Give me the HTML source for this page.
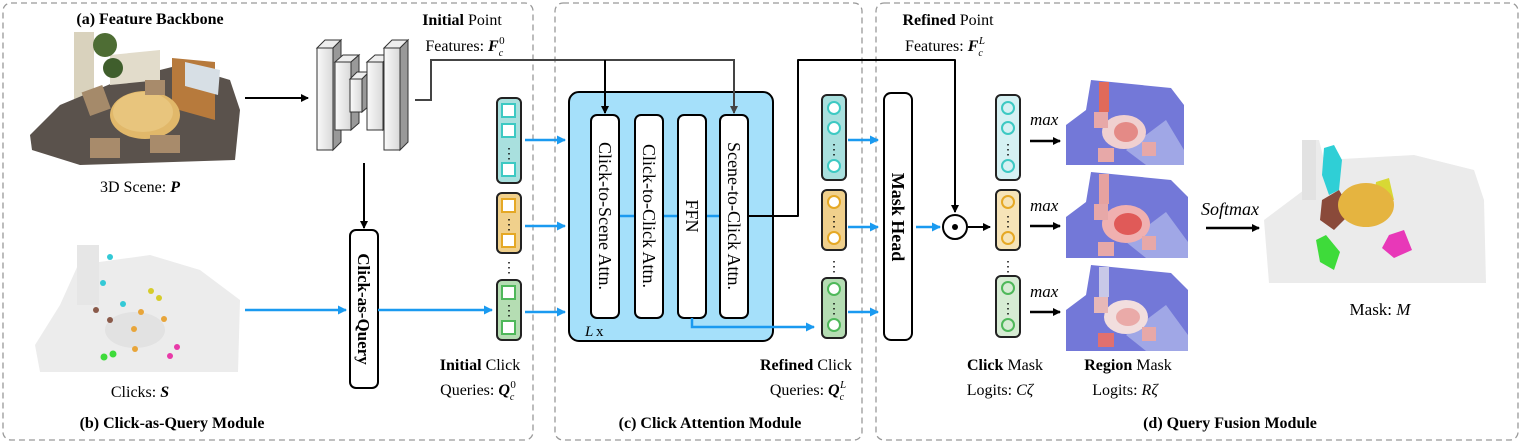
<!DOCTYPE html>
<html><head><meta charset="utf-8"><style>
body{margin:0;background:#fff}
svg{display:block}
text{font-family:"Liberation Serif",serif;fill:#000}
.b{font-weight:bold}
</style></head><body>
<svg width="1522" height="444" viewBox="0 0 1522 444" xmlns="http://www.w3.org/2000/svg">
<defs>
<marker id="ak" markerWidth="8" markerHeight="8" refX="7" refY="4" orient="auto" markerUnits="userSpaceOnUse"><path d="M0,0 L8,4 L0,8 z" fill="#000"/></marker>
<marker id="ag" markerWidth="8" markerHeight="8" refX="7" refY="4" orient="auto" markerUnits="userSpaceOnUse"><path d="M0,0 L8,4 L0,8 z" fill="#444"/></marker>
<marker id="ab" markerWidth="9" markerHeight="9" refX="8" refY="4.5" orient="auto" markerUnits="userSpaceOnUse"><path d="M0,0 L9,4.5 L0,9 z" fill="#1a9af0"/></marker>
<linearGradient id="blk" x1="0" x2="1"><stop offset="0" stop-color="#fafafa"/><stop offset="1" stop-color="#d8d8d8"/></linearGradient>
</defs>
<g fill="none" stroke="#999" stroke-width="1.3" stroke-dasharray="6,4">
<rect x="3" y="3" width="530" height="437" rx="8"/>
<rect x="555" y="3" width="307" height="437" rx="8"/>
<rect x="876" y="3" width="642" height="437" rx="8"/>
</g>
<text x="150" y="24" font-size="16" text-anchor="middle" class="b">(a) Feature Backbone</text>
<g>
<rect x="74" y="32" width="20" height="80" fill="#d9d2bd"/>
<polygon points="30,135 60,105 120,80 180,65 230,80 240,110 235,160 80,165 32,150" fill="#5a524c"/>
<polygon points="110,55 160,50 160,80 110,85" fill="#e2dccb"/>
<polygon points="172,58 215,62 215,120 172,108" fill="#b77a3c"/>
<polygon points="185,62 220,70 218,95 185,86" fill="#d7dfe5"/>
<circle cx="105" cy="45" r="12" fill="#4e6d34"/>
<circle cx="113" cy="68" r="10" fill="#3f5e2c"/>
<ellipse cx="145" cy="115" rx="35" ry="24" fill="#e1b86a"/>
<ellipse cx="143" cy="112" rx="30" ry="20" fill="#e8c57d"/>
<rect x="85" y="88" width="22" height="25" fill="#a58a6a" transform="rotate(-20 96 100)"/>
<rect x="90" y="138" width="30" height="20" fill="#a88b6b"/>
<rect x="150" y="135" width="30" height="18" fill="#a88b6b"/>
<rect x="145" y="80" width="20" height="15" fill="#a88b6b"/>
</g>
<text x="140" y="192" font-size="16" text-anchor="middle">3D Scene: <tspan font-weight="bold" font-style="italic">P</tspan></text>
<g>
<polygon points="35,345 60,305 78,265 150,255 200,270 240,300 238,372 40,372" fill="#ececec"/>
<rect x="77" y="245" width="22" height="60" fill="#e6e6e6"/>
<ellipse cx="135" cy="330" rx="30" ry="18" fill="#e2e2e2"/>
<g>
<circle cx="110" cy="257" r="3" fill="#33c9d6"/><circle cx="103" cy="283" r="3" fill="#33c9d6"/><circle cx="123" cy="304" r="3" fill="#33c9d6"/>
<circle cx="96" cy="310" r="3" fill="#8a5a4a"/><circle cx="110" cy="320" r="3" fill="#8a5a4a"/>
<circle cx="151" cy="291" r="3" fill="#d6cc2a"/><circle cx="159" cy="298" r="3" fill="#d6cc2a"/>
<circle cx="141" cy="312" r="3" fill="#e8a53a"/><circle cx="164" cy="319" r="3" fill="#e8a53a"/><circle cx="134" cy="329" r="3" fill="#e8a53a"/><circle cx="135" cy="349" r="3" fill="#e8a53a"/>
<circle cx="104" cy="357" r="3.5" fill="#3edb3a"/><circle cx="113" cy="354" r="3.5" fill="#3edb3a"/>
<circle cx="177" cy="347" r="3" fill="#e83aa8"/><circle cx="170" cy="356" r="3" fill="#e83aa8"/>
</g>
</g>
<text x="140" y="397" font-size="16" text-anchor="middle">Clicks: <tspan font-weight="bold" font-style="italic">S</tspan></text>
<text x="172" y="428" font-size="16" text-anchor="middle" class="b">(b) Click-as-Query Module</text>
<line x1="245" y1="98" x2="308" y2="98" stroke="#000" stroke-width="2" marker-end="url(#ak)"/>
<g stroke="#333" stroke-width="1">
<g><polygon points="317,48 325,40 341,40 333,48" fill="#eee"/><polygon points="333,48 341,40 341,142 333,150" fill="#999"/><rect x="317" y="48" width="16" height="102" fill="url(#blk)"/></g>
<g><polygon points="335,62 343,55 359,55 351,62" fill="#eee"/><polygon points="351,62 359,55 359,123 351,130" fill="#999"/><rect x="335" y="62" width="16" height="68" fill="url(#blk)"/></g>
<g><polygon points="350,79 357,72 369,72 362,79" fill="#eee"/><polygon points="362,79 369,72 369,106 362,112" fill="#999"/><rect x="350" y="79" width="12" height="33" fill="url(#blk)"/></g>
<g><polygon points="367,62 375,55 391,55 383,62" fill="#eee"/><polygon points="383,62 391,55 391,123 383,130" fill="#999"/><rect x="367" y="62" width="16" height="68" fill="url(#blk)"/></g>
<g><polygon points="384,48 392,40 408,40 400,48" fill="#eee"/><polygon points="400,48 408,40 408,142 400,150" fill="#999"/><rect x="384" y="48" width="16" height="102" fill="url(#blk)"/></g>
</g>
<text x="462" y="25" font-size="16" text-anchor="middle"><tspan font-weight="bold">Initial</tspan> Point</text>
<text x="465" y="51" font-size="16" text-anchor="middle">Features: <tspan font-weight="bold" font-style="italic">F</tspan><tspan font-size="10" font-style="italic" dy="5">c</tspan><tspan font-size="11" dy="-12" dx="-4">0</tspan></text>
<line x1="364" y1="163" x2="364" y2="228" stroke="#000" stroke-width="2" marker-end="url(#ak)"/>
<rect x="350" y="230" width="28" height="158" rx="6" fill="#fff" stroke="#000" stroke-width="2"/>
<text font-size="17" class="b" transform="translate(358,309) rotate(90)" text-anchor="middle">Click-as-Query</text>
<line x1="245" y1="310" x2="346" y2="310" stroke="#1a9af0" stroke-width="2.5" marker-end="url(#ab)"/>
<line x1="378" y1="310" x2="492" y2="310" stroke="#1a9af0" stroke-width="2.5" marker-end="url(#ab)"/>
<g stroke-width="2">
<rect x="497" y="98" width="24" height="85" rx="5" fill="#a9e0de" stroke="#222"/>
<g fill="#fff" stroke="#3dc9c3"><rect x="502" y="104" width="13" height="13"/><rect x="502" y="124" width="13" height="13"/><rect x="502" y="163" width="13" height="13"/></g>
<rect x="497" y="193" width="24" height="60" rx="5" fill="#f0d08c" stroke="#222"/>
<g fill="#fff" stroke="#e5a825"><rect x="502" y="199" width="13" height="13"/><rect x="502" y="234" width="13" height="13"/></g>
<rect x="497" y="280" width="24" height="60" rx="5" fill="#b5ddb3" stroke="#222"/>
<g fill="#fff" stroke="#4fb85a"><rect x="502" y="286" width="13" height="13"/><rect x="502" y="321" width="13" height="13"/></g>
</g>
<g font-size="14" text-anchor="middle"><text x="509" y="158">⋮</text><text x="509" y="229">⋮</text><text x="509" y="272">⋮</text><text x="509" y="315">⋮</text></g>
<text x="480" y="370" font-size="16" text-anchor="middle"><tspan font-weight="bold">Initial</tspan> Click</text>
<text x="478" y="395" font-size="16" text-anchor="middle">Queries: <tspan font-weight="bold" font-style="italic">Q</tspan><tspan font-size="10" font-style="italic" dy="5">c</tspan><tspan font-size="11" dy="-12" dx="-4">0</tspan></text>
<g stroke="#1a9af0" stroke-width="2.5"><line x1="525" y1="140" x2="565" y2="140" marker-end="url(#ab)"/><line x1="525" y1="226" x2="565" y2="226" marker-end="url(#ab)"/><line x1="525" y1="312" x2="565" y2="312" marker-end="url(#ab)"/></g>
<rect x="569" y="92" width="204" height="249" rx="10" fill="#a5e0fa" stroke="#000" stroke-width="2"/>
<!-- feature line drawn after box -->
<polyline points="415,100 431,100 431,60 734,60 734,113" fill="none" stroke="#444" stroke-width="2" marker-end="url(#ag)"/>
<line x1="605" y1="60" x2="605" y2="113" stroke="#000" stroke-width="2" marker-end="url(#ak)"/>
<g stroke="#1a9af0" stroke-width="2.5"><line x1="619" y1="216" x2="636" y2="216"/><line x1="664" y1="216" x2="678" y2="216"/><line x1="707" y1="216" x2="720" y2="216"/></g>
<g fill="#fff" stroke="#000" stroke-width="2">
<rect x="591" y="115" width="28" height="203" rx="6"/><rect x="635" y="115" width="28" height="203" rx="6"/>
<rect x="678" y="115" width="28" height="203" rx="6"/><rect x="720" y="115" width="28" height="203" rx="6"/>
</g>
<g font-size="18" text-anchor="middle">
<text transform="translate(599,216) rotate(90)">Click-to-Scene Attn.</text>
<text transform="translate(643,216) rotate(90)">Click-to-Click Attn.</text>
<text transform="translate(686,216) rotate(90)">FFN</text>
<text transform="translate(728,216) rotate(90)">Scene-to-Click Attn.</text>
</g>
<text x="585" y="336" font-size="15" font-family="Liberation Sans" font-style="italic">L</text>
<text x="596" y="336" font-size="15" font-family="Liberation Sans">x</text>
<polyline points="692,318 692,327 814,327" fill="none" stroke="#1a9af0" stroke-width="2.5" marker-end="url(#ab)"/>
<polyline points="748,216 798,216 798,60 955,60 955,212" fill="none" stroke="#000" stroke-width="2" stroke-linejoin="round" marker-end="url(#ak)"/>
<g stroke-width="2">
<rect x="822" y="95" width="24" height="85" rx="5" fill="#a9e0de" stroke="#222"/>
<rect x="822" y="190" width="24" height="60" rx="5" fill="#f0d08c" stroke="#222"/>
<rect x="822" y="278" width="24" height="60" rx="5" fill="#b5ddb3" stroke="#222"/>
<g fill="#fff" stroke="#3dc9c3"><circle cx="834" cy="108" r="6"/><circle cx="834" cy="128" r="6"/><circle cx="834" cy="166" r="6"/></g>
<g fill="#fff" stroke="#e5a825"><circle cx="834" cy="202" r="6"/><circle cx="834" cy="238" r="6"/></g>
<g fill="#fff" stroke="#4fb85a"><circle cx="834" cy="289" r="6"/><circle cx="834" cy="325" r="6"/></g>
</g>
<g font-size="14" text-anchor="middle"><text x="834" y="154">⋮</text><text x="834" y="226">⋮</text><text x="834" y="271">⋮</text><text x="834" y="313">⋮</text></g>
<text x="806" y="370" font-size="16" text-anchor="middle"><tspan font-weight="bold">Refined</tspan> Click</text>
<text x="808" y="395" font-size="16" text-anchor="middle">Queries: <tspan font-weight="bold" font-style="italic">Q</tspan><tspan font-size="10" font-style="italic" dy="5">c</tspan><tspan font-size="11" font-style="italic" dy="-12" dx="-4">L</tspan></text>
<text x="710" y="428" font-size="16" text-anchor="middle" class="b">(c) Click Attention Module</text>
<text x="948" y="25" font-size="16" text-anchor="middle"><tspan font-weight="bold">Refined</tspan> Point</text>
<text x="945" y="51" font-size="16" text-anchor="middle">Features: <tspan font-weight="bold" font-style="italic">F</tspan><tspan font-size="10" font-style="italic" dy="5">c</tspan><tspan font-size="11" font-style="italic" dy="-12" dx="-4">L</tspan></text>
<g stroke="#1a9af0" stroke-width="2.5"><line x1="848" y1="140" x2="878" y2="140" marker-end="url(#ab)"/><line x1="848" y1="227" x2="878" y2="227" marker-end="url(#ab)"/><line x1="848" y1="312" x2="878" y2="312" marker-end="url(#ab)"/></g>
<rect x="884" y="93" width="28" height="247" rx="7" fill="#fff" stroke="#000" stroke-width="2"/>
<text transform="translate(892,217) rotate(90)" font-size="18" class="b" text-anchor="middle">Mask Head</text>
<line x1="916" y1="227" x2="940" y2="227" stroke="#1a9af0" stroke-width="2.5" marker-end="url(#ab)"/>
<circle cx="955" cy="227" r="12" fill="#fff" stroke="#000" stroke-width="2"/><circle cx="955" cy="227" r="3" fill="#000"/>
<line x1="968" y1="227" x2="990" y2="227" stroke="#000" stroke-width="2" marker-end="url(#ak)"/>
<g stroke-width="2">
<rect x="996" y="95" width="24" height="85" rx="5" fill="#d6f1f3" stroke="#222"/>
<rect x="996" y="190" width="24" height="60" rx="5" fill="#f6e4b8" stroke="#222"/>
<rect x="996" y="276" width="24" height="61" rx="5" fill="#d7ecd4" stroke="#222"/>
<g fill="none" stroke="#3dc9c3"><circle cx="1008" cy="108" r="6"/><circle cx="1008" cy="128" r="6"/><circle cx="1008" cy="166" r="6"/></g>
<g fill="none" stroke="#e5a825"><circle cx="1008" cy="202" r="6"/><circle cx="1008" cy="238" r="6"/></g>
<g fill="none" stroke="#4fb85a"><circle cx="1008" cy="288" r="6"/><circle cx="1008" cy="325" r="6"/></g>
</g>
<g font-size="14" text-anchor="middle"><text x="1008" y="154">⋮</text><text x="1008" y="226">⋮</text><text x="1008" y="271">⋮</text><text x="1008" y="313">⋮</text></g>
<g font-size="17" font-style="italic"><text x="1030" y="125">max</text><text x="1030" y="211">max</text><text x="1030" y="297">max</text></g>
<g stroke="#000" stroke-width="2.5"><line x1="1030" y1="141" x2="1060" y2="141" marker-end="url(#ak)"/><line x1="1030" y1="226" x2="1060" y2="226" marker-end="url(#ak)"/><line x1="1030" y1="312" x2="1060" y2="312" marker-end="url(#ak)"/></g>
<g>
<g transform="translate(1066,80)">
<polygon points="0,45 20,30 25,0 105,8 118,25 118,85 0,85" fill="#7378d8"/>
<polygon points="60,70 100,40 118,70 118,85 80,85" fill="#a0a7e6"/>
<ellipse cx="58" cy="52" rx="22" ry="17" fill="#f0d0d0"/><ellipse cx="60" cy="52" rx="12" ry="10" fill="#e48a86"/>
<rect x="28" y="32" width="14" height="16" fill="#e7a8a8"/><rect x="32" y="68" width="16" height="14" fill="#e7a8a8"/><rect x="76" y="62" width="14" height="14" fill="#e7a8a8"/>
<rect x="33" y="2" width="10" height="30" fill="#e06a5a"/>
</g>
<g transform="translate(1066,172)">
<polygon points="0,45 20,30 25,0 105,8 122,25 122,86 0,86" fill="#7378d8"/>
<polygon points="60,70 100,40 122,70 122,86 80,86" fill="#a0a7e6"/>
<ellipse cx="60" cy="52" rx="24" ry="19" fill="#f0b0b0"/><ellipse cx="62" cy="52" rx="14" ry="11" fill="#e05a58"/>
<rect x="28" y="32" width="14" height="16" fill="#e7a8a8"/><rect x="32" y="70" width="16" height="14" fill="#e7a8a8"/><rect x="76" y="64" width="14" height="14" fill="#e7a8a8"/>
<rect x="33" y="2" width="10" height="30" fill="#e6a2a0"/>
</g>
<g transform="translate(1066,265)">
<polygon points="0,45 20,30 25,0 105,8 122,25 122,86 0,86" fill="#7378d8"/>
<polygon points="60,70 100,40 122,70 122,86 80,86" fill="#a0a7e6"/>
<ellipse cx="60" cy="52" rx="22" ry="17" fill="#f2dede"/><ellipse cx="62" cy="52" rx="12" ry="9" fill="#eaaaa8"/>
<rect x="28" y="32" width="14" height="16" fill="#e7b8b8"/><rect x="32" y="68" width="16" height="14" fill="#e07070"/><rect x="76" y="62" width="14" height="14" fill="#e7a8a8"/>
<rect x="33" y="2" width="10" height="30" fill="#c8c8e8"/>
</g>
</g>
<text x="1230" y="215" font-size="18" font-style="italic" text-anchor="middle">Softmax</text>
<line x1="1206" y1="228" x2="1259" y2="228" stroke="#000" stroke-width="2.5" marker-end="url(#ak)"/>
<g transform="translate(1264,140)">
<polygon points="0,80 40,50 38,0 55,0 60,20 150,15 210,30 220,60 222,143 5,143" fill="#ebebeb"/>
<rect x="38" y="0" width="14" height="60" fill="#e2e2e2"/>
<polygon points="60,8 70,5 78,20 75,50 65,55 58,35" fill="#2fcfd6"/>
<polygon points="58,60 75,50 88,72 70,90 56,80" fill="#8a4a3a"/>
<polygon points="112,42 125,38 130,60 110,58" fill="#d8d834"/>
<ellipse cx="102" cy="65" rx="28" ry="22" fill="#e5b440"/>
<polygon points="52,100 62,95 76,112 70,130 56,122" fill="#3edb3a"/>
<polygon points="125,95 140,90 148,110 130,118 118,108" fill="#e838b8"/>
</g>
<text x="1380" y="315" font-size="17" text-anchor="middle">Mask: <tspan font-style="italic">M</tspan></text>
<text x="1005" y="370" font-size="16" text-anchor="middle"><tspan font-weight="bold">Click</tspan> Mask</text>
<text x="1000" y="395" font-size="16" text-anchor="middle">Logits: <tspan font-style="italic">Cζ</tspan></text>
<text x="1128" y="370" font-size="16" text-anchor="middle"><tspan font-weight="bold">Region</tspan> Mask</text>
<text x="1125" y="395" font-size="16" text-anchor="middle">Logits: <tspan font-style="italic">Rζ</tspan></text>
<text x="1230" y="428" font-size="16" text-anchor="middle" class="b">(d) Query Fusion Module</text>
</svg>
</body></html>
